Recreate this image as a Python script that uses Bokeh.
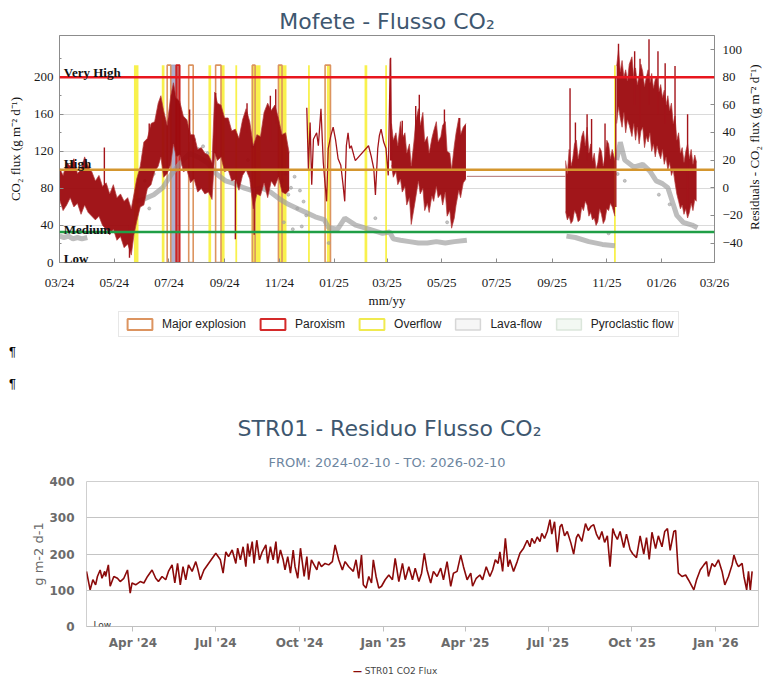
import numpy as np
import pandas as pd
from bokeh.plotting import figure
from bokeh.layouts import column
from bokeh.models import (Range1d, LinearAxis, FixedTicker, MonthsTicker, Div, Title,
                          DatetimeTickFormatter, Label, Span, Legend, LegendItem)
from bokeh.embed import file_html
from bokeh.resources import INLINE

nan = float("nan")

# ============================ DATA ============================
# ---- Top chart "Mofete - Flusso CO2" (days counted from mof_start) ----
mof_start = "2024-03-01"
mof_end = "2026-03-01"

# dense CO2 flux record, shown as low / high envelope (g m-2 d-1)
flux1_days = [0, 4, 8, 12, 16, 20, 24, 28, 32, 36, 40, 44, 48, 52, 56, 60, 64, 68, 72, 76, 80, 83, 86,
              90, 94, 98, 102, 106, 110, 113, 116, 120, 124, 127, 130, 134, 138, 142, 146, 150, 154,
              158, 162, 166, 170, 173, 176, 180, 184, 188, 192, 196, 200, 204, 208, 212, 216, 220,
              224, 228, 232, 236, 240, 244, 248, 252, 256]
flux1_lo = [68, 56, 62, 70, 60, 64, 52, 62, 54, 50, 46, 50, 40, 36, 30, 36, 24, 28, 16, 20, 8, 30, 44,
            60, 62, 80, 84, 98, 104, 114, 92, 96, 106, 128, 114, 116, 98, 100, 86, 90, 76,
            80, 74, 76, 68, 118, 110, 114, 98, 100, 88, 90, 78, 94, 100, 90, 58, 74,
            72, 86, 70, 88, 82, 92, 76, 74, 78]
flux1_hi = [102, 94, 108, 104, 112, 96, 100, 114, 104, 98, 88, 94, 82, 86, 74, 84, 70, 74, 66, 70, 58, 74, 90,
            104, 130, 134, 150, 152, 172, 180, 164, 148, 180, 194, 178, 174, 158, 154, 138, 138, 122,
            124, 118, 116, 108, 184, 172, 170, 156, 156, 142, 144, 134, 154, 166, 152, 126, 138,
            136, 162, 172, 164, 170, 156, 138, 140, 118]

flux_sparse_days = [275.6, 277.4, 279.3, 281.1, 283.0, 286.6, 288.5, 291.4, 294.0, 295.8, 297.7, 299.5,
                    302.4, 305.0, 307.6, 310.5, 313.5, 316.0, 317.9, 319.7, 321.6, 323.4, 325.2, 328.2,
                    329.7, 344.4, 347.3, 350.3, 352.1, 354.7, 356.5, 358.4, 361.3, 363.9, 366.4, 368.7,
                    370.1]
flux_sparse_vals = [167, 101, 151, 84, 133, 140, 126, 166, 108, 87, 66, 123,
                    137, 146, 133, 112, 105, 84, 66, 126, 140, 123, 126, 115,
                    110, 126, 115, 101, 73, 123, 137, 144, 130, 123, 94, 220,
                    110]

flux2_days = [370, 372, 375, 377, 380, 382, 385, 387, 390, 392, 395, 397, 400, 402, 405, 407, 410, 412,
              415, 417, 420, 422, 425, 427, 430, 432, 435, 437, 440, 442, 445, 447, 450, 453]
flux2_lo = [105, 92, 98, 84, 90, 76, 82, 62, 70, 41, 58, 70, 88, 74, 80, 56, 64, 54, 72, 66, 82, 70,
            74, 62, 76, 50, 56, 37, 48, 62, 78, 70, 86, 90]
flux2_hi = [150, 132, 140, 126, 152, 134, 140, 118, 128, 104, 130, 152, 166, 148, 162, 130, 136, 118,
            134, 142, 152, 130, 136, 148, 152, 120, 118, 100, 126, 140, 156, 138, 146, 150]

flux_gap_days = [454, 564]
flux_gap_vals = [93, 93]

flux3_days = [564, 566, 568, 570, 572, 574, 576, 578, 580, 582, 584, 586, 588, 590, 592, 594, 596, 598,
              600, 602, 604, 606, 608, 610, 612, 614, 616, 619]
flux3_lo = [55, 46, 50, 42, 45, 56, 52, 44, 46, 60, 56, 66, 62, 50, 54, 46, 48, 40, 44, 58, 52, 42,
            46, 58, 56, 64, 60, 50]
flux3_hi = [110, 96, 122, 104, 112, 128, 132, 112, 122, 136, 142, 126, 146, 118, 128, 110, 118, 100,
            108, 124, 120, 104, 114, 132, 128, 112, 122, 110]

flux4_days = [621, 623, 625, 627, 629, 631, 633, 635, 638, 640, 642, 644, 646, 648, 650, 652, 654, 656,
              658, 660, 662, 664, 666, 668, 670, 672, 674, 676, 678, 680, 682, 684, 686, 688, 690, 692,
              694, 696, 698, 700, 702, 704, 706, 708, 710]
flux4_lo = [150, 168, 156, 146, 162, 140, 154, 148, 136, 150, 132, 146, 128, 142, 146, 124, 136, 130,
            140, 120, 128, 114, 126, 118, 112, 122, 106, 114, 100, 108, 94, 100, 86, 74, 66, 58,
            62, 52, 58, 48, 54, 64, 56, 68, 66]
flux4_hi = [212, 230, 206, 218, 200, 208, 196, 214, 222, 200, 210, 192, 202, 214, 206, 190, 200, 208,
            194, 204, 188, 198, 200, 184, 192, 178, 186, 170, 180, 164, 172, 150, 158, 132, 140, 118,
            124, 108, 120, 128, 112, 122, 106, 116, 108]

# isolated peaks / drops of the flux record
spike_days = [50, 78, 100, 145, 174, 196, 209, 217, 235, 241, 369, 382, 397, 401, 429, 446, 569, 575,
              588, 593, 608, 620, 623, 641, 647, 657, 667, 675, 686, 700]
spike_lo = [80, 5, 120, 130, 120, 25, 140, 30, 130, 150, 110, 120, 110, 120, 120, 120, 100, 100,
            110, 110, 100, 60, 180, 170, 150, 170, 160, 150, 140, 53]
spike_hi = [124, 40, 150, 165, 183, 90, 172, 80, 180, 187, 221, 153, 169, 181, 165, 156, 188, 151,
            160, 155, 150, 200, 236, 228, 220, 241, 228, 215, 212, 160]

# residuals (right axis)
resid_days = [0, 5, 10, 15, 20, 25, 31, 32, 85, 95, 105, 115, 125, 135, 145, 155, 165, 175, 185, 195,
              205, 215, 225, 235, 245, 255, 265, 275, 285, 295, 300, 310, 318, 330, 345, 360, 368, 372,
              380, 390, 400, 410, 420, 430, 440, 454, 455, 565, 575, 590, 605, 619, 620, 621, 625, 630,
              640, 650, 658, 665, 672, 678, 683, 688, 695, 705, 711]
resid_vals = [-35, -36, -35, -37, -36, -37, -36, nan, -10, -8, -5, 0, 10, 18, 25, 22, 18, 10, 5, 3,
              0, -2, 0, -3, -8, -12, -15, -18, -21, -23, -29, -30, -22, -27, -30, -33, -32, -37,
              -38, -39, -40, -40, -39, -40, -39, -38, nan, -35, -36, -39, -41, -42, nan, 20, 33, 20,
              15, 17, 12, 5, 3, 0, -10, -20, -25, -27, -29]
resid_pts_days = [248, 250, 252, 255, 258, 260, 262, 265, 268, 270, 272, 275, 150, 155, 160, 165, 95,
                  100, 105, 210, 215, 300, 352, 432, 612, 622, 630, 668, 680]
resid_pts_vals = [5, -25, 10, -5, 0, -30, 8, -15, -2, -28, -10, -20, 35, 28, 30, 25, 5,
                  -15, 10, 20, 30, -40, -22, -25, -33, 10, 5, -5, -12]

# volcanic events
overflow_start = ["2024-05-23", "2024-06-23", "2024-08-14", "2024-08-28", "2024-09-13", "2024-10-01",
                  "2024-10-31", "2024-12-03", "2024-12-24", "2025-02-04", "2025-02-27", "2025-11-09"]
overflow_end = ["2024-05-28", "2024-06-26", "2024-08-17", "2024-09-01", "2024-09-15", "2024-10-11",
                "2024-11-09", "2024-12-05", "2024-12-28", "2025-02-07", "2025-03-01", "2025-11-11"]
explosion_start = ["2024-06-29", "2024-07-23", "2024-08-22", "2024-10-02", "2024-10-31", "2024-12-22"]
explosion_end = ["2024-07-03", "2024-07-28", "2024-08-28", "2024-10-05", "2024-11-04", "2024-12-28"]
paroxysm_start = ["2024-07-09"]
paroxysm_end = ["2024-07-13"]
lavaflow_start = ["2024-07-03"]
lavaflow_end = ["2024-07-09"]
event_top = 213
legend_labels = ["Major explosion", "Paroxism", "Overflow", "Lava-flow", "Pyroclastic flow"]

level_very_high = 200
level_high = 100
level_medium = 33

left_ticks = [0, 40, 80, 120, 160, 200]
left_minor = [20, 60, 100, 140, 180, 220]
right_ticks = [-40, -20, 0, 20, 40, 60, 80, 100]

# ---- Bottom chart "STR01 - Residuo Flusso CO2" (days counted from str_start) ----
str_start = "2024-02-10"
str_end = "2026-02-10"
str_days = [0, 4, 7, 10, 12, 15, 17, 20, 21, 24, 26, 30, 34, 37, 41, 45, 48, 50, 54, 59, 63, 67, 72,
            76, 79, 83, 87, 90, 94, 97, 100, 103, 106, 109, 112, 116, 120, 122, 125, 129, 142, 147,
            150, 153, 156, 160, 164, 166, 169, 172, 175, 177, 179, 182, 184, 187, 190, 193, 197, 199,
            202, 205, 208, 210, 213, 216, 218, 221, 224, 227, 229, 232, 235, 239, 242, 244, 247, 250,
            253, 255, 258, 262, 266, 270, 273, 277, 281, 284, 288, 293, 296, 299, 302, 304, 307, 310,
            313, 315, 318, 321, 324, 328, 332, 336, 339, 343, 347, 350, 354, 358, 361, 365, 368, 371,
            374, 378, 381, 385, 389, 392, 396, 400, 403, 407, 411, 414, 418, 422, 424, 428, 432, 435,
            439, 443, 446, 449, 452, 454, 457, 460, 463, 465, 469, 473, 476, 480, 484, 487, 489, 492,
            495, 498, 500, 503, 506, 509, 511, 514, 517, 520, 522, 525, 528, 532, 535, 538, 540, 544,
            548, 551, 554, 557, 560, 563, 566, 569, 572, 575, 578, 580, 583, 586, 590, 593, 597, 600,
            604, 608, 612, 615, 618, 621, 625, 628, 632, 635, 638, 641, 645, 647, 650, 654, 658, 661,
            667, 670, 674, 678, 681, 683, 687, 690, 694, 698, 701, 705, 709, 711, 714, 716, 720, 722,
            725, 727, 729, 731]
str_vals = [152, 101, 129, 115, 138, 156, 133, 152, 138, 170, 111, 138, 133, 124, 133, 156, 92, 120, 115,
            124, 120, 138, 156, 133, 124, 138, 129, 152, 170, 120, 174, 115, 165, 129, 170, 152, 179,
            161, 129, 156, 202, 184, 147, 206, 193, 211, 174, 216, 184, 220, 165, 229, 193, 234, 174,
            238, 184, 206, 225, 174, 220, 184, 234, 174, 211, 184, 156, 193, 147, 211, 165, 133, 216,
            138, 193, 129, 184, 170, 156, 179, 165, 174, 170, 179, 225, 184, 156, 179, 165, 152, 184,
            133, 197, 115, 106, 138, 120, 184, 138, 106, 111, 129, 142, 129, 188, 124, 174, 129, 165,
            129, 161, 124, 147, 202, 156, 120, 152, 138, 161, 129, 179, 111, 147, 152, 197, 165, 129,
            147, 111, 133, 142, 129, 165, 138, 156, 184, 174, 206, 152, 243, 165, 184, 152, 179, 202,
            216, 238, 220, 243, 229, 247, 234, 257, 243, 262, 295, 255, 289, 205, 275, 282, 250, 262,
            230, 200, 245, 255, 235, 284, 265, 276, 281, 255, 240, 262, 232, 250, 165, 270, 255, 240,
            262, 218, 255, 212, 200, 190, 250, 200, 245, 185, 260, 215, 250, 220, 262, 270, 210, 262,
            265, 147, 138, 142, 129, 101, 129, 156, 170, 179, 138, 174, 165, 184, 152, 115, 138, 170,
            197, 174, 165, 174, 138, 101, 152, 101, 152]
str_ticks = [0, 100, 200, 300, 400]

# ============================ HELPERS ============================
DAY_MS = 86400000.0


def ms(s):
    return pd.Timestamp(s).value / 1e6


def to_dt(start, days):
    return pd.Timestamp(start) + pd.to_timedelta(np.asarray(days, dtype=float), unit="D")


def tx(start, days):  # position (ms) for in-frame annotations
    return ms(start) + days * DAY_MS


SERIF = "Liberation Serif"
SANS = "DejaVu Sans"
TITLE_COLOR = "#3E576F"
RED = "#9c0a0e"

# ============================ TOP FIGURE ============================
p1 = figure(width=772, height=310, x_axis_type="datetime",
            x_range=Range1d(ms(mof_start), ms(mof_end)), y_range=Range1d(0, 245),
            output_backend="svg", toolbar_location=None,
            min_border_left=59, min_border_right=52, min_border_top=35, min_border_bottom=45)
p1.frame_align = False
p1.extra_y_ranges = {"res": Range1d(-54.1, 110.2)}
p1.outline_line_color = "#8c8c8c"
p1.xgrid.visible = False
p1.ygrid.ticker = FixedTicker(ticks=left_ticks[1:])
p1.ygrid.grid_line_color = "#dadada"

p1.title.text = "Mofete - Flusso CO\u2082"
p1.title.align = "center"
p1.title.text_font = SANS
p1.title.text_font_size = "22px"
p1.title.text_font_style = "normal"
p1.title.text_color = TITLE_COLOR
p1.title.standoff = 3

p1.yaxis.ticker = FixedTicker(ticks=left_ticks, minor_ticks=left_minor)
p1.xaxis.ticker = MonthsTicker(months=[0, 2, 4, 6, 8, 10])
p1.xaxis.formatter = DatetimeTickFormatter(months="%m/%y", days="%m/%y", years="%m/%y")
rax = LinearAxis(y_range_name="res", ticker=FixedTicker(ticks=right_ticks))
p1.add_layout(rax, "right")
for ax in [p1.xaxis[0], p1.yaxis[0], rax]:
    ax.major_label_text_font = SERIF
    ax.major_label_text_font_size = "13px"
    ax.major_label_text_color = "#1a1a1a"
    ax.axis_line_color = "#8c8c8c"
    ax.major_tick_line_color = "#8c8c8c"
    ax.minor_tick_line_color = "#8c8c8c"
    ax.major_tick_in = 4
    ax.major_tick_out = 0
    ax.minor_tick_in = 2
    ax.minor_tick_out = 0
    ax.axis_label_text_font = SERIF
    ax.axis_label_text_font_size = "13px"
    ax.axis_label_text_font_style = "normal"
    ax.axis_label_text_color = "#111111"
p1.xaxis.minor_tick_line_color = None
rax.minor_tick_line_color = None
p1.xaxis.major_label_standoff = 12
p1.yaxis.major_label_standoff = 6
rax.major_label_standoff = 8
p1.yaxis.axis_label = "CO\u2082 flux (g m\u207b\u00b2 d\u207b\u00b9)"
p1.yaxis.axis_label_standoff = 8
# right label reads bottom-to-top, starting near the bottom of the frame
rax.axis_label = "\u00a0" * 10 + "Residuals - CO\u2082 flux (g m\u207b\u00b2 d\u207b\u00b9)"
rax.axis_label_standoff = 9
rax.axis_label_orientation = np.pi / 2
rax.axis_label_align = "start"
p1.xaxis.axis_label = "mm/yy"
p1.xaxis.axis_label_standoff = 0

# event bars
p1.quad(left=pd.to_datetime(overflow_start), right=pd.to_datetime(overflow_end), bottom=0,
        top=event_top, fill_color="#f7ef3a", fill_alpha=0.9, line_color=None)
p1.quad(left=pd.to_datetime(lavaflow_start), right=pd.to_datetime(lavaflow_end), bottom=0,
        top=event_top, fill_color="#a6a6c8", fill_alpha=0.9, line_color="#9a9aba")
p1.quad(left=pd.to_datetime(explosion_start), right=pd.to_datetime(explosion_end), bottom=0,
        top=event_top, fill_color=None, line_color="#dc9460", line_width=1.6)
p1.quad(left=pd.to_datetime(paroxysm_start), right=pd.to_datetime(paroxysm_end), bottom=0,
        top=event_top, fill_color="#b82020", fill_alpha=0.75, line_color="#cc2020", line_width=1.6)

# residuals (gray)
p1.line(x=to_dt(mof_start, resid_days), y=resid_vals, y_range_name="res",
        line_color="#999999", line_width=5, line_alpha=0.65)
p1.scatter(x=to_dt(mof_start, resid_pts_days), y=resid_pts_vals, y_range_name="res",
           size=3, color="#a0a0a0", alpha=0.6)

# CO2 flux (dark red)
for d, lo, hi in [(flux1_days, flux1_lo, flux1_hi), (flux2_days, flux2_lo, flux2_hi),
                  (flux3_days, flux3_lo, flux3_hi), (flux4_days, flux4_lo, flux4_hi)]:
    xd = to_dt(mof_start, d)
    p1.varea(x=xd, y1=lo, y2=hi, fill_color=RED, fill_alpha=0.95)
    p1.line(x=xd, y=lo, line_color="#b43c3c", line_width=1, line_alpha=0.7)
    p1.line(x=xd, y=hi, line_color="#b43c3c", line_width=1, line_alpha=0.7)
p1.line(x=to_dt(mof_start, flux_sparse_days), y=flux_sparse_vals, line_color="#a3141a", line_width=1.3)
p1.line(x=to_dt(mof_start, flux_gap_days), y=flux_gap_vals, line_color="#b07070", line_width=1)
p1.segment(x0=to_dt(mof_start, spike_days), y0=spike_lo, x1=to_dt(mof_start, spike_days), y1=spike_hi,
           line_color="#a3141a", line_width=1.4)

# levels
p1.add_layout(Span(location=level_very_high, dimension="width", line_color="#e8161e", line_width=2.5))
p1.add_layout(Span(location=level_high, dimension="width", line_color="#d4962e", line_width=2.5))
p1.add_layout(Span(location=level_medium, dimension="width", line_color="#1f9e46", line_width=2.5))
for txt, yv in [("Very High", 204.8), ("High", 106.7), ("Medium", 35.2), ("Low", 4.3)]:
    p1.add_layout(Label(x=tx(mof_start, 4.7), y=yv, text=txt, text_font=SERIF, text_font_size="13px",
                        text_font_style="bold", text_color="#111111", text_baseline="alphabetic"))

# ============================ LEGEND STRIP (top chart) ============================
pl = figure(width=772, height=35, x_range=Range1d(0, 1), y_range=Range1d(0, 1),
            x_axis_location=None, y_axis_location=None, output_backend="svg", toolbar_location=None,
            min_border_left=0, min_border_right=0, min_border_top=0, min_border_bottom=0)
pl.frame_align = False
pl.outline_line_color = None
pl.grid.visible = False
# legend sample boxes (kept outside the visible strip range; only their legend icons show)
leg_styles = [dict(fill_color="white", line_color="#dc9460", line_width=2),
              dict(fill_color="white", line_color="#d42a2a", line_width=2),
              dict(fill_color="white", line_color="#f0ea50", line_width=2),
              dict(fill_color="#f6f6f6", line_color="#d6d6d6", line_width=1.5),
              dict(fill_color="#f3f8f3", line_color="#dbe6db", line_width=1.5)]
items = []
for lab, st in zip(legend_labels, leg_styles):
    r = pl.quad(left=[5], right=[6], top=[6], bottom=[5], **st)
    items.append(LegendItem(label=lab, renderers=[r]))
legend = Legend(items=items, orientation="horizontal", location=(118, 8), padding=5, spacing=11,
                label_standoff=7, glyph_width=31, glyph_height=14, label_height=14,
                label_text_font="Liberation Sans", label_text_font_size="12px",
                label_text_color="#222222", border_line_color="#cfcfcf", margin=0)
pl.add_layout(legend, "center")

# ============================ PARAGRAPH MARKS ============================
div1 = Div(text='<div style="position:relative;left:9px;top:-9px;font-family:\'Liberation Sans\';'
                'font-size:13px;color:#000;line-height:32px;">\u00b6<br>\u00b6</div>',
           width=772, height=55, margin=0)

# ============================ BOTTOM FIGURE ============================
p2 = figure(width=772, height=252, x_axis_type="datetime",
            x_range=Range1d(ms(str_start), ms("2026-02-17")), y_range=Range1d(0, 400),
            output_backend="svg", toolbar_location=None,
            min_border_left=86, min_border_right=14, min_border_top=81, min_border_bottom=25)
p2.frame_align = False
p2.outline_line_color = "#cfcfcf"
p2.xgrid.visible = False
p2.ygrid.ticker = FixedTicker(ticks=str_ticks[1:])
p2.ygrid.grid_line_color = "#c4c4c4"
p2.yaxis.ticker = FixedTicker(ticks=str_ticks)
p2.yaxis.axis_line_color = None
p2.yaxis.major_tick_line_color = None
p2.yaxis.minor_tick_line_color = None
p2.yaxis.major_label_standoff = 6
p2.yaxis.axis_label = "g m-2 d-1"
p2.yaxis.axis_label_text_font = SANS
p2.yaxis.axis_label_text_font_size = "13px"
p2.yaxis.axis_label_text_font_style = "normal"
p2.yaxis.axis_label_text_color = "#6b6b6b"
p2.yaxis.axis_label_standoff = 0
p2.xaxis.ticker = MonthsTicker(months=[0, 3, 6, 9])
p2.xaxis.formatter = DatetimeTickFormatter(months="%b '%y", days="%b '%y", years="%b '%y")
p2.xaxis.axis_line_color = "#c0c0c0"
p2.xaxis.major_tick_line_color = "#c0c0c0"
p2.xaxis.minor_tick_line_color = None
p2.xaxis.major_tick_in = 0
p2.xaxis.major_tick_out = 5
p2.xaxis.major_label_standoff = 4
for ax in [p2.xaxis[0], p2.yaxis[0]]:
    ax.major_label_text_font = SANS
    ax.major_label_text_font_size = "12px"
    ax.major_label_text_font_style = "bold"
    ax.major_label_text_color = "#6b6b6b"

# main title (outer) then subtitle (closest to frame)
p2.title.text = "STR01 - Residuo Flusso CO\u2082"
p2.title.align = "left"
p2.title.offset = 151
p2.title.text_font = SANS
p2.title.text_font_size = "22px"
p2.title.text_font_style = "normal"
p2.title.text_color = TITLE_COLOR
p2.title.standoff = 0
p2.add_layout(Title(text="FROM: " + str_start + " - TO: " + str_end, align="left", offset=182,
                    text_font=SANS, text_font_size="13px", text_font_style="normal",
                    text_color="#6D869F", standoff=24), "above")

p2.line(x=to_dt(str_start, str_days), y=str_vals, line_color="#8b0a0a", line_width=1.6)
p2.add_layout(Label(x=tx(str_start, 7.7), y=5.5, text="Low", text_font=SANS, text_font_size="9px",
                    text_color="#333333", text_baseline="alphabetic"))

div2 = Div(text='<div style="position:relative;left:353px;top:10px;font-family:\'DejaVu Sans\';'
                'font-size:9px;color:#444;white-space:nowrap;"><span style="color:#8b0a0a;'
                'font-weight:bold;">\u2014</span> STR01 CO2 Flux</div>',
           width=772, height=25, margin=0)

layout = column(p1, pl, div1, p2, div2, spacing=0)
open("out.html", "w").write(file_html(layout, INLINE))
